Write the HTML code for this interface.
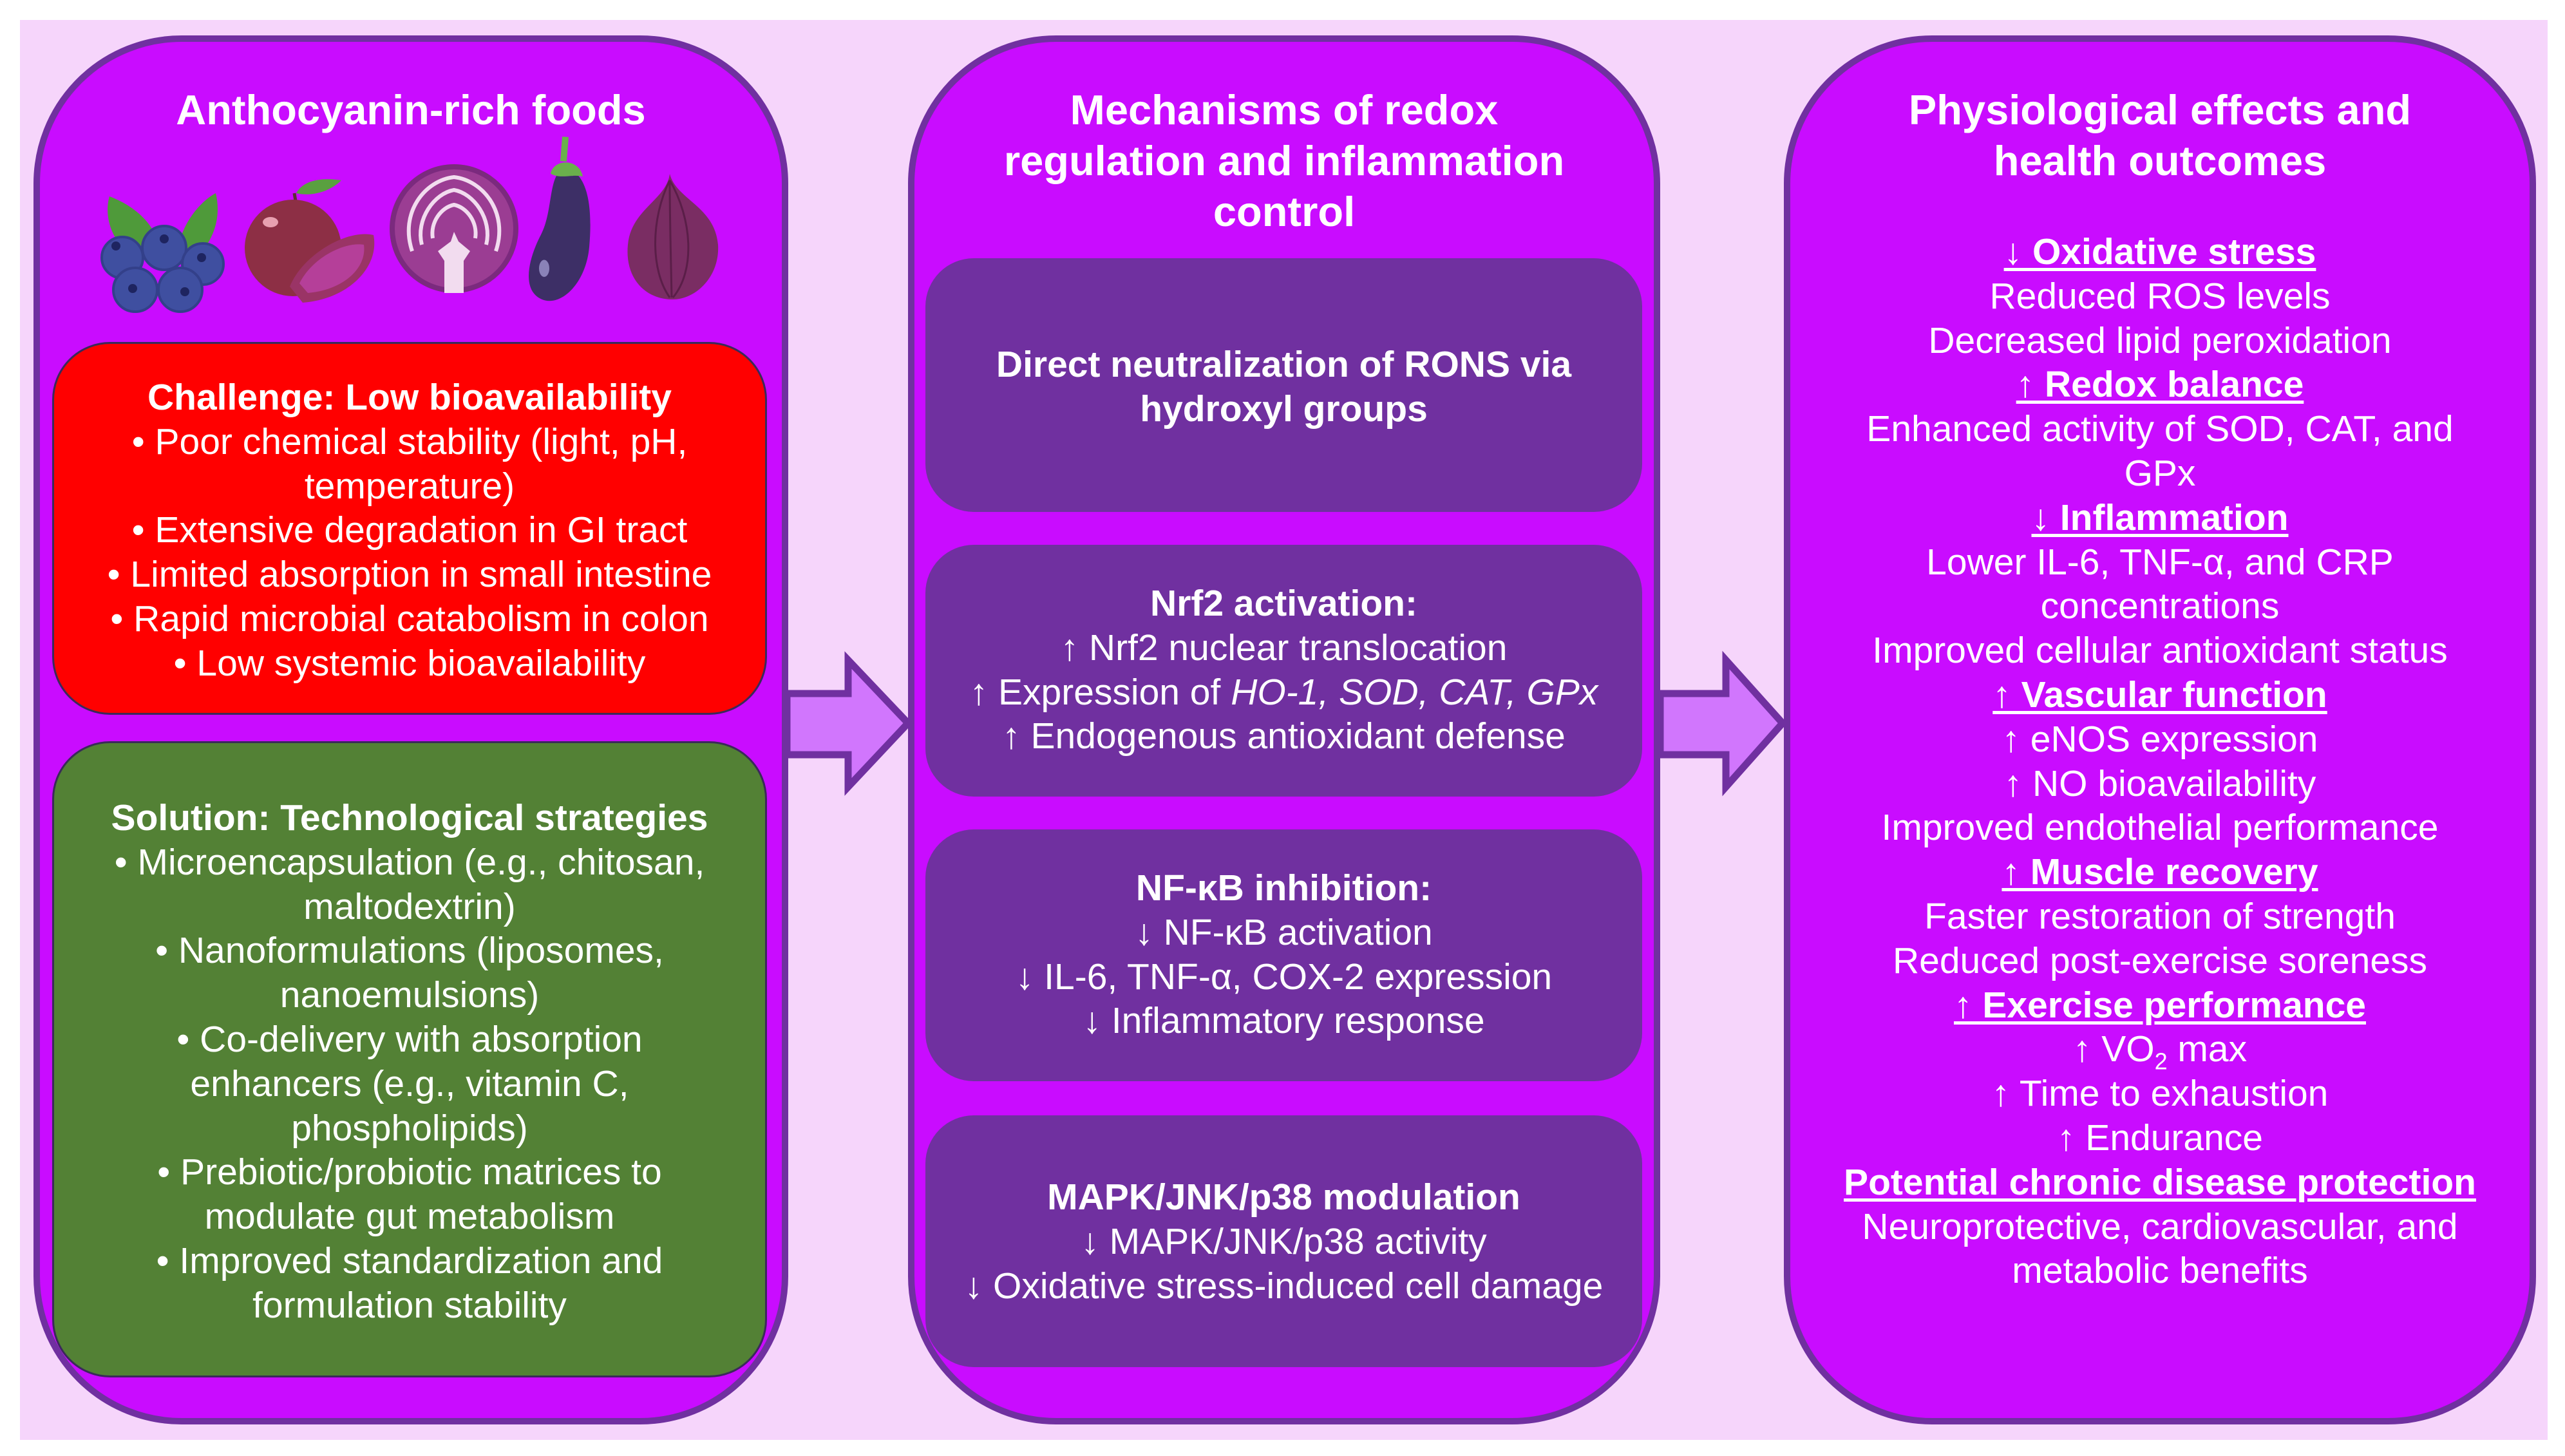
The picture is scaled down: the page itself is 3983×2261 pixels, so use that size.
<!DOCTYPE html>
<html><head><meta charset="utf-8"><style>
body{margin:0;width:3983px;height:2261px;background:#fff;position:relative;overflow:hidden;font-family:"Liberation Sans",Arial,sans-serif;color:#fff}
.abs{position:absolute}
.panel{position:absolute;background:#c90cff;border:10px solid #7030a0;border-radius:230px;box-sizing:border-box}
.box{position:absolute;box-sizing:border-box;border-radius:90px}
.mb{background:#7030a0;border-radius:75px;left:1437px;width:1113px}
.t{position:absolute;text-align:center;font-size:57px;line-height:68.8px;white-space:nowrap}
.ttl{font-size:65px;font-weight:bold;line-height:79px}
b{font-weight:bold}
u{text-decoration:underline;text-decoration-thickness:5px;text-underline-offset:6px}
</style></head><body>
<div class="abs" style="left:31px;top:31px;width:3925px;height:2205px;background:#f6d5fb"></div>
<div class="panel" style="left:52px;top:55px;width:1172px;height:2157px"></div>
<div class="panel" style="left:1410px;top:55px;width:1168px;height:2157px"></div>
<div class="panel" style="left:2770px;top:55px;width:1168px;height:2157px"></div>

<svg class="abs" style="left:0;top:0" width="3983" height="2261">
<polygon points="1222,1077 1317,1077 1317,1025 1410,1123 1317,1222 1317,1172 1222,1172" fill="#d176fd" stroke="#7030a0" stroke-width="11" stroke-linejoin="miter"/>
<polygon points="2578,1077 2680,1077 2680,1025 2768,1123 2680,1222 2680,1172 2578,1172" fill="#d176fd" stroke="#7030a0" stroke-width="11"/>
<!-- blueberries -->
<path d="M215,405 C160,370 165,320 170,305 C210,320 245,350 250,395Z" fill="#4f9a3a"/>
<path d="M275,395 C280,345 315,310 335,300 C345,340 330,385 290,410Z" fill="#4f9a3a"/>
<g fill="#3f4fa0" stroke="#33408a" stroke-width="4">
<circle cx="190" cy="400" r="32"/><circle cx="255" cy="385" r="34"/><circle cx="315" cy="410" r="32"/><circle cx="210" cy="450" r="34"/><circle cx="280" cy="450" r="34"/></g>
<g fill="#1e2460"><circle cx="180" cy="382" r="7"/><circle cx="255" cy="371" r="7"/><circle cx="313" cy="400" r="7"/><circle cx="206" cy="448" r="7"/><circle cx="287" cy="453" r="7"/></g>
<!-- apple & sweet potato -->
<path d="M460,300 C470,280 500,275 530,280 C510,300 480,305 460,300Z" fill="#5aa040"/>
<path d="M457,300 L462,330" stroke="#5a3030" stroke-width="5"/>
<circle cx="455" cy="385" r="75" fill="#8d2f45"/>
<ellipse cx="420" cy="345" rx="12" ry="8" fill="#e8a0b0"/>
<g transform="translate(0,-75)">
<path d="M450,520 C470,470 540,430 580,440 C590,490 540,540 470,545Z" fill="#9a3466"/>
<path d="M465,515 C485,475 535,450 565,455 C570,490 535,525 478,530Z" fill="#b53f99"/>
</g>
<!-- cabbage -->
<circle cx="705" cy="355" r="100" fill="#7b2a7e"/>
<circle cx="705" cy="355" r="92" fill="#9b3d93"/>
<g fill="none" stroke="#f2dcef" stroke-width="6" transform="translate(0,-50)">
<path d="M640,440 C620,380 660,330 705,325 C750,330 790,380 770,440"/>
<path d="M655,430 C645,390 675,350 705,345 C735,350 765,390 755,430"/>
<path d="M672,420 C668,395 685,372 705,368 C725,372 742,395 738,420"/>
</g>
<path d="M690,455 L690,405 L680,390 L700,375 L705,360 L712,375 L730,390 L720,405 L720,455Z" fill="#f2dcef"/>
<!-- eggplant -->
<g transform="translate(0,-25) scale(1,0.95) translate(0,10)">
<path d="M878,290 C915,300 920,360 915,420 C910,480 870,520 840,505 C810,490 820,440 840,400 C860,360 850,300 878,290Z" fill="#3d2f66"/>
<path d="M855,300 C860,275 900,275 905,305 C890,300 870,310 855,300Z" fill="#6ab04c"/>
<path d="M875,280 L878,240" stroke="#6ab04c" stroke-width="10"/>
<ellipse cx="845" cy="455" rx="8" ry="14" fill="#8a82b8"/>
</g>
<!-- onion -->
<g transform="translate(0,-60)">
<path d="M1040,330 C1050,370 1110,380 1115,440 C1118,490 1080,525 1045,525 C1000,525 970,490 975,440 C980,385 1035,370 1040,330Z" fill="#7a2d63"/>
<g fill="none" stroke="#5a1e48" stroke-width="3"><path d="M1040,340 C1010,400 1010,480 1040,522"/><path d="M1040,340 C1075,400 1080,480 1045,522"/><path d="M1040,340 C1040,400 1042,470 1043,522"/></g>
</g>
</svg>

<div class="t ttl" style="left:52px;width:1172px;top:131px">Anthocyanin-rich foods</div>

<div class="box" style="left:81px;top:531px;width:1110px;height:579px;background:#ff0000;border:3px solid #3a2a5a"></div>
<div class="t" style="left:81px;width:1110px;top:583px"><b>Challenge: Low bioavailability</b><br>• Poor chemical stability (light, pH,<br>temperature)<br>• Extensive degradation in GI tract<br>• Limited absorption in small intestine<br>• Rapid microbial catabolism in colon<br>• Low systemic bioavailability</div>

<div class="box" style="left:81px;top:1151px;width:1110px;height:988px;background:#538135;border:3px solid #3a2a5a"></div>
<div class="t" style="left:81px;width:1110px;top:1236px"><b>Solution: Technological strategies</b><br>• Microencapsulation (e.g., chitosan,<br>maltodextrin)<br>• Nanoformulations (liposomes,<br>nanoemulsions)<br>• Co-delivery with absorption<br>enhancers (e.g., vitamin C,<br>phospholipids)<br>• Prebiotic/probiotic matrices to<br>modulate gut metabolism<br>• Improved standardization and<br>formulation stability</div>

<div class="t ttl" style="left:1410px;width:1168px;top:131px">Mechanisms of redox<br>regulation and inflammation<br>control</div>

<div class="box mb" style="top:401px;height:394px"></div>
<div class="t" style="left:1437px;width:1113px;top:532px"><b>Direct neutralization of RONS via<br>hydroxyl groups</b></div>
<div class="box mb" style="top:846px;height:391px"></div>
<div class="t" style="left:1437px;width:1113px;top:903px"><b>Nrf2 activation:</b><br>↑ Nrf2 nuclear translocation<br>↑ Expression of <i>HO-1, SOD, CAT, GPx</i><br>↑ Endogenous antioxidant defense</div>
<div class="box mb" style="top:1288px;height:391px"></div>
<div class="t" style="left:1437px;width:1113px;top:1345px"><b>NF-κB inhibition:</b><br>↓ NF-κB activation<br>↓ IL-6, TNF-α, COX-2 expression<br>↓ Inflammatory response</div>
<div class="box mb" style="top:1732px;height:391px"></div>
<div class="t" style="left:1437px;width:1113px;top:1825px"><b>MAPK/JNK/p38 modulation</b><br>↓ MAPK/JNK/p38 activity<br>↓ Oxidative stress-induced cell damage</div>

<div class="t ttl" style="left:2770px;width:1168px;top:131px">Physiological effects and<br>health outcomes</div>
<div class="t" style="left:2770px;width:1168px;top:357px"><b><u>↓ Oxidative stress</u></b><br>Reduced ROS levels<br>Decreased lipid peroxidation<br><b><u>↑ Redox balance</u></b><br>Enhanced activity of SOD, CAT, and<br>GPx<br><b><u>↓ Inflammation</u></b><br>Lower IL-6, TNF-α, and CRP<br>concentrations<br>Improved cellular antioxidant status<br><b><u>↑ Vascular function</u></b><br>↑ eNOS expression<br>↑ NO bioavailability<br>Improved endothelial performance<br><b><u>↑ Muscle recovery</u></b><br>Faster restoration of strength<br>Reduced post-exercise soreness<br><b><u>↑ Exercise performance</u></b><br>↑ VO<sub style="font-size:36px;line-height:0">2</sub> max<br>↑ Time to exhaustion<br>↑ Endurance<br><b><u>Potential chronic disease protection</u></b><br>Neuroprotective, cardiovascular, and<br>metabolic benefits</div>
</body></html>
